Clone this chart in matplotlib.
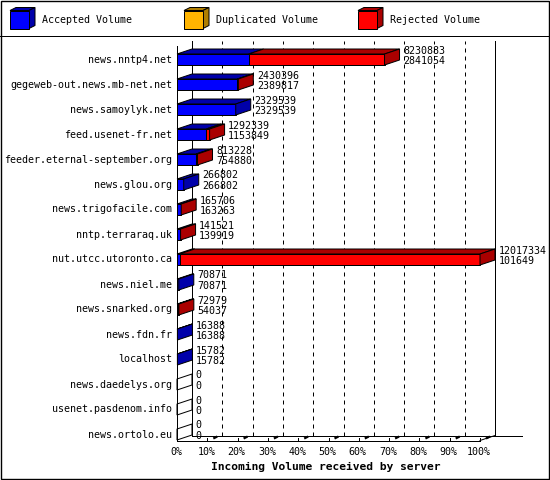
import matplotlib
matplotlib.use("Agg")
import matplotlib.pyplot as plt
from matplotlib.patches import Polygon, Rectangle

# servers and volumes
servers = ["news.nntp4.net", "gegeweb-out.news.mb-net.net", "news.samoylyk.net",
           "feed.usenet-fr.net", "feeder.eternal-september.org", "news.glou.org",
           "news.trigofacile.com", "nntp.terraraq.uk", "nut.utcc.utoronto.ca",
           "news.niel.me", "news.snarked.org", "news.fdn.fr", "localhost",
           "news.daedelys.org", "usenet.pasdenom.info", "news.ortolo.eu"]
total_volume = [8230883, 2430396, 2329539, 1292339, 813228, 266802, 165706, 141521,
                12017334, 70871, 72979, 16388, 15782, 0, 0, 0]
accepted_volume = [2841054, 2389817, 2329539, 1153849, 754880, 266802, 163263, 139919,
                   101649, 70871, 54037, 16388, 15782, 0, 0, 0]
duplicated_volume = [0] * len(servers)
pct_labels = ["0%", "10%", "20%", "30%", "40%", "50%", "60%", "70%", "80%", "90%", "100%"]
legend_names = ["Accepted Volume", "Duplicated Volume", "Rejected Volume"]

# colours: front face, top/side face
c_acc = ("#0000ff", "#0000aa")
c_dup = ("#ffb400", "#b07e00")
c_rej = ("#ff0000", "#aa0000")

FONT = "DejaVu Sans Mono"
W, H = 550, 480
fig = plt.figure(figsize=(W / 100, H / 100), dpi=100)

# front plane of the plot, in pixels
x0px, x1px = 177, 480
ytop, ybot = 45.5, 440.5
row0, rowstep = 59.5, 25.0

xmax = max(total_volume)
ax = fig.add_axes([x0px / W, 1 - ybot / H, (x1px - x0px) / W, (ybot - ytop) / H])
ax.set_xlim(0, xmax)
ax.set_ylim((ybot - row0) / rowstep, (ytop - row0) / rowstep)
ax.axis("off")

sx = xmax / (x1px - x0px)   # data units per pixel, x
sy = 1 / rowstep            # data units per pixel, y
DX, DY = 15 * sx, -5 * sy   # 3d depth
half = 5.5 * sy
lw = 0.72


def ky(px):
    return (px - row0) / rowstep


# back plane: grid lines and frame
for j in range(11):
    xb = j * xmax / 10 + DX
    ax.plot([xb, xb], [ky(ybot) + DY, ky(ytop) + DY], color="black", lw=lw,
            ls="-" if j in (0, 10) else (0, (4, 4)), clip_on=False)
ax.plot([DX, xmax * (1 + 27 / 303) + DX], [ky(ybot) + DY] * 2, color="black", lw=lw, clip_on=False)
ax.plot([0, 0], [ky(ybot), ky(ytop)], color="black", lw=lw, clip_on=False)
ax.plot([0, xmax], [ky(ybot)] * 2, color="black", lw=lw, clip_on=False)
ax.plot([xmax, xmax + DX], [ky(ybot), ky(ybot) + DY], color="black", lw=lw, clip_on=False)

# ticks and percent labels
for j, lab in enumerate(pct_labels):
    xf = j * xmax / 10
    if j > 0:
        ax.plot([xf, xf], [ky(ybot), ky(ybot - 3)], color="black", lw=lw, clip_on=False)
        ax.plot([xf + 6 * sx, xf + 10 * sx], [ky(ybot - 2), ky(ybot - 4)], color="black",
                lw=1.6, clip_on=False, solid_capstyle="butt")
    ax.text(xf - 1 * sx, ky(452), lab, family=FONT, fontsize=7.2, ha="center", va="center")


def box3d(xa, xb, k, cols, side=True):
    # top face
    ax.add_patch(Polygon([(xa, k - half), (xb, k - half), (xb + DX, k - half + DY),
                          (xa + DX, k - half + DY)], closed=True, fc=cols[1], ec="black",
                         lw=lw, clip_on=False, zorder=3))
    if side:
        ax.add_patch(Polygon([(xb, k - half), (xb, k + half), (xb + DX, k + half + DY),
                              (xb + DX, k - half + DY)], closed=True, fc=cols[1], ec="black",
                             lw=lw, clip_on=False, zorder=3))


for i, name in enumerate(servers):
    acc = accepted_volume[i]
    dup = duplicated_volume[i]
    rej = total_volume[i] - acc - dup
    segs = [(acc, c_acc), (dup, c_dup), (rej, c_rej)]
    segs = [s for s in segs if s[0] > 0]
    left = 0
    for n, (v, cols) in enumerate(segs):
        ax.barh(i, v, left=left, height=2 * half, color=cols[0], edgecolor="black",
                lw=lw, clip_on=False, zorder=3)
        box3d(left, left + v, i, cols, side=(n == len(segs) - 1))
        left += v
    if not segs:
        ax.add_patch(Polygon([(0, i - half), (0, i + half), (DX, i + half + DY),
                              (DX, i - half + DY)], closed=True, fc="none", ec="black",
                             lw=lw, clip_on=False, zorder=3))
    tx = total_volume[i] + DX + 3.5 * sx
    ax.text(tx, i - 9 * sy, str(total_volume[i]), family=FONT, fontsize=7.2,
            ha="left", va="center", zorder=4)
    ax.text(tx, i + 1.5 * sy, str(acc), family=FONT, fontsize=7.2,
            ha="left", va="center", zorder=4)
    ax.text(-5 * sx, i, name, family=FONT, fontsize=7.2, ha="right", va="center")

ax.text(xmax / 2 - 3 * sx, ky(467), "Incoming Volume received by server", family=FONT,
        fontsize=8.1, fontweight="bold", ha="center", va="center")

# overlay in pixels: border and legend strip
ov = fig.add_axes([0, 0, 1, 1], zorder=-1)
ov.set_xlim(0, W)
ov.set_ylim(H, 0)
ov.axis("off")
ov.add_patch(Rectangle((0.5, 0.5), W - 1.5, H - 1.5, fill=False, ec="black", lw=1.0,
                       clip_on=False))
ov.plot([0, W], [35.5, 35.5], color="black", lw=lw)
for lx, name, cols in zip([10, 184, 358], legend_names, [c_acc, c_dup, c_rej]):
    ov.add_patch(Polygon([(lx, 10.5), (lx + 19, 10.5), (lx + 25, 7.5), (lx + 6, 7.5)],
                         closed=True, fc=cols[1], ec="black", lw=lw))
    ov.add_patch(Polygon([(lx + 19, 10.5), (lx + 19, 28.5), (lx + 25, 25.5), (lx + 25, 7.5)],
                         closed=True, fc=cols[1], ec="black", lw=lw))
    ov.add_patch(Rectangle((lx, 10.5), 19, 18, fc=cols[0], ec="black", lw=lw))
    ov.text(lx + 32, 20, name, family=FONT, fontsize=7.2, ha="left", va="center")

fig.savefig("out.png", dpi=100)
